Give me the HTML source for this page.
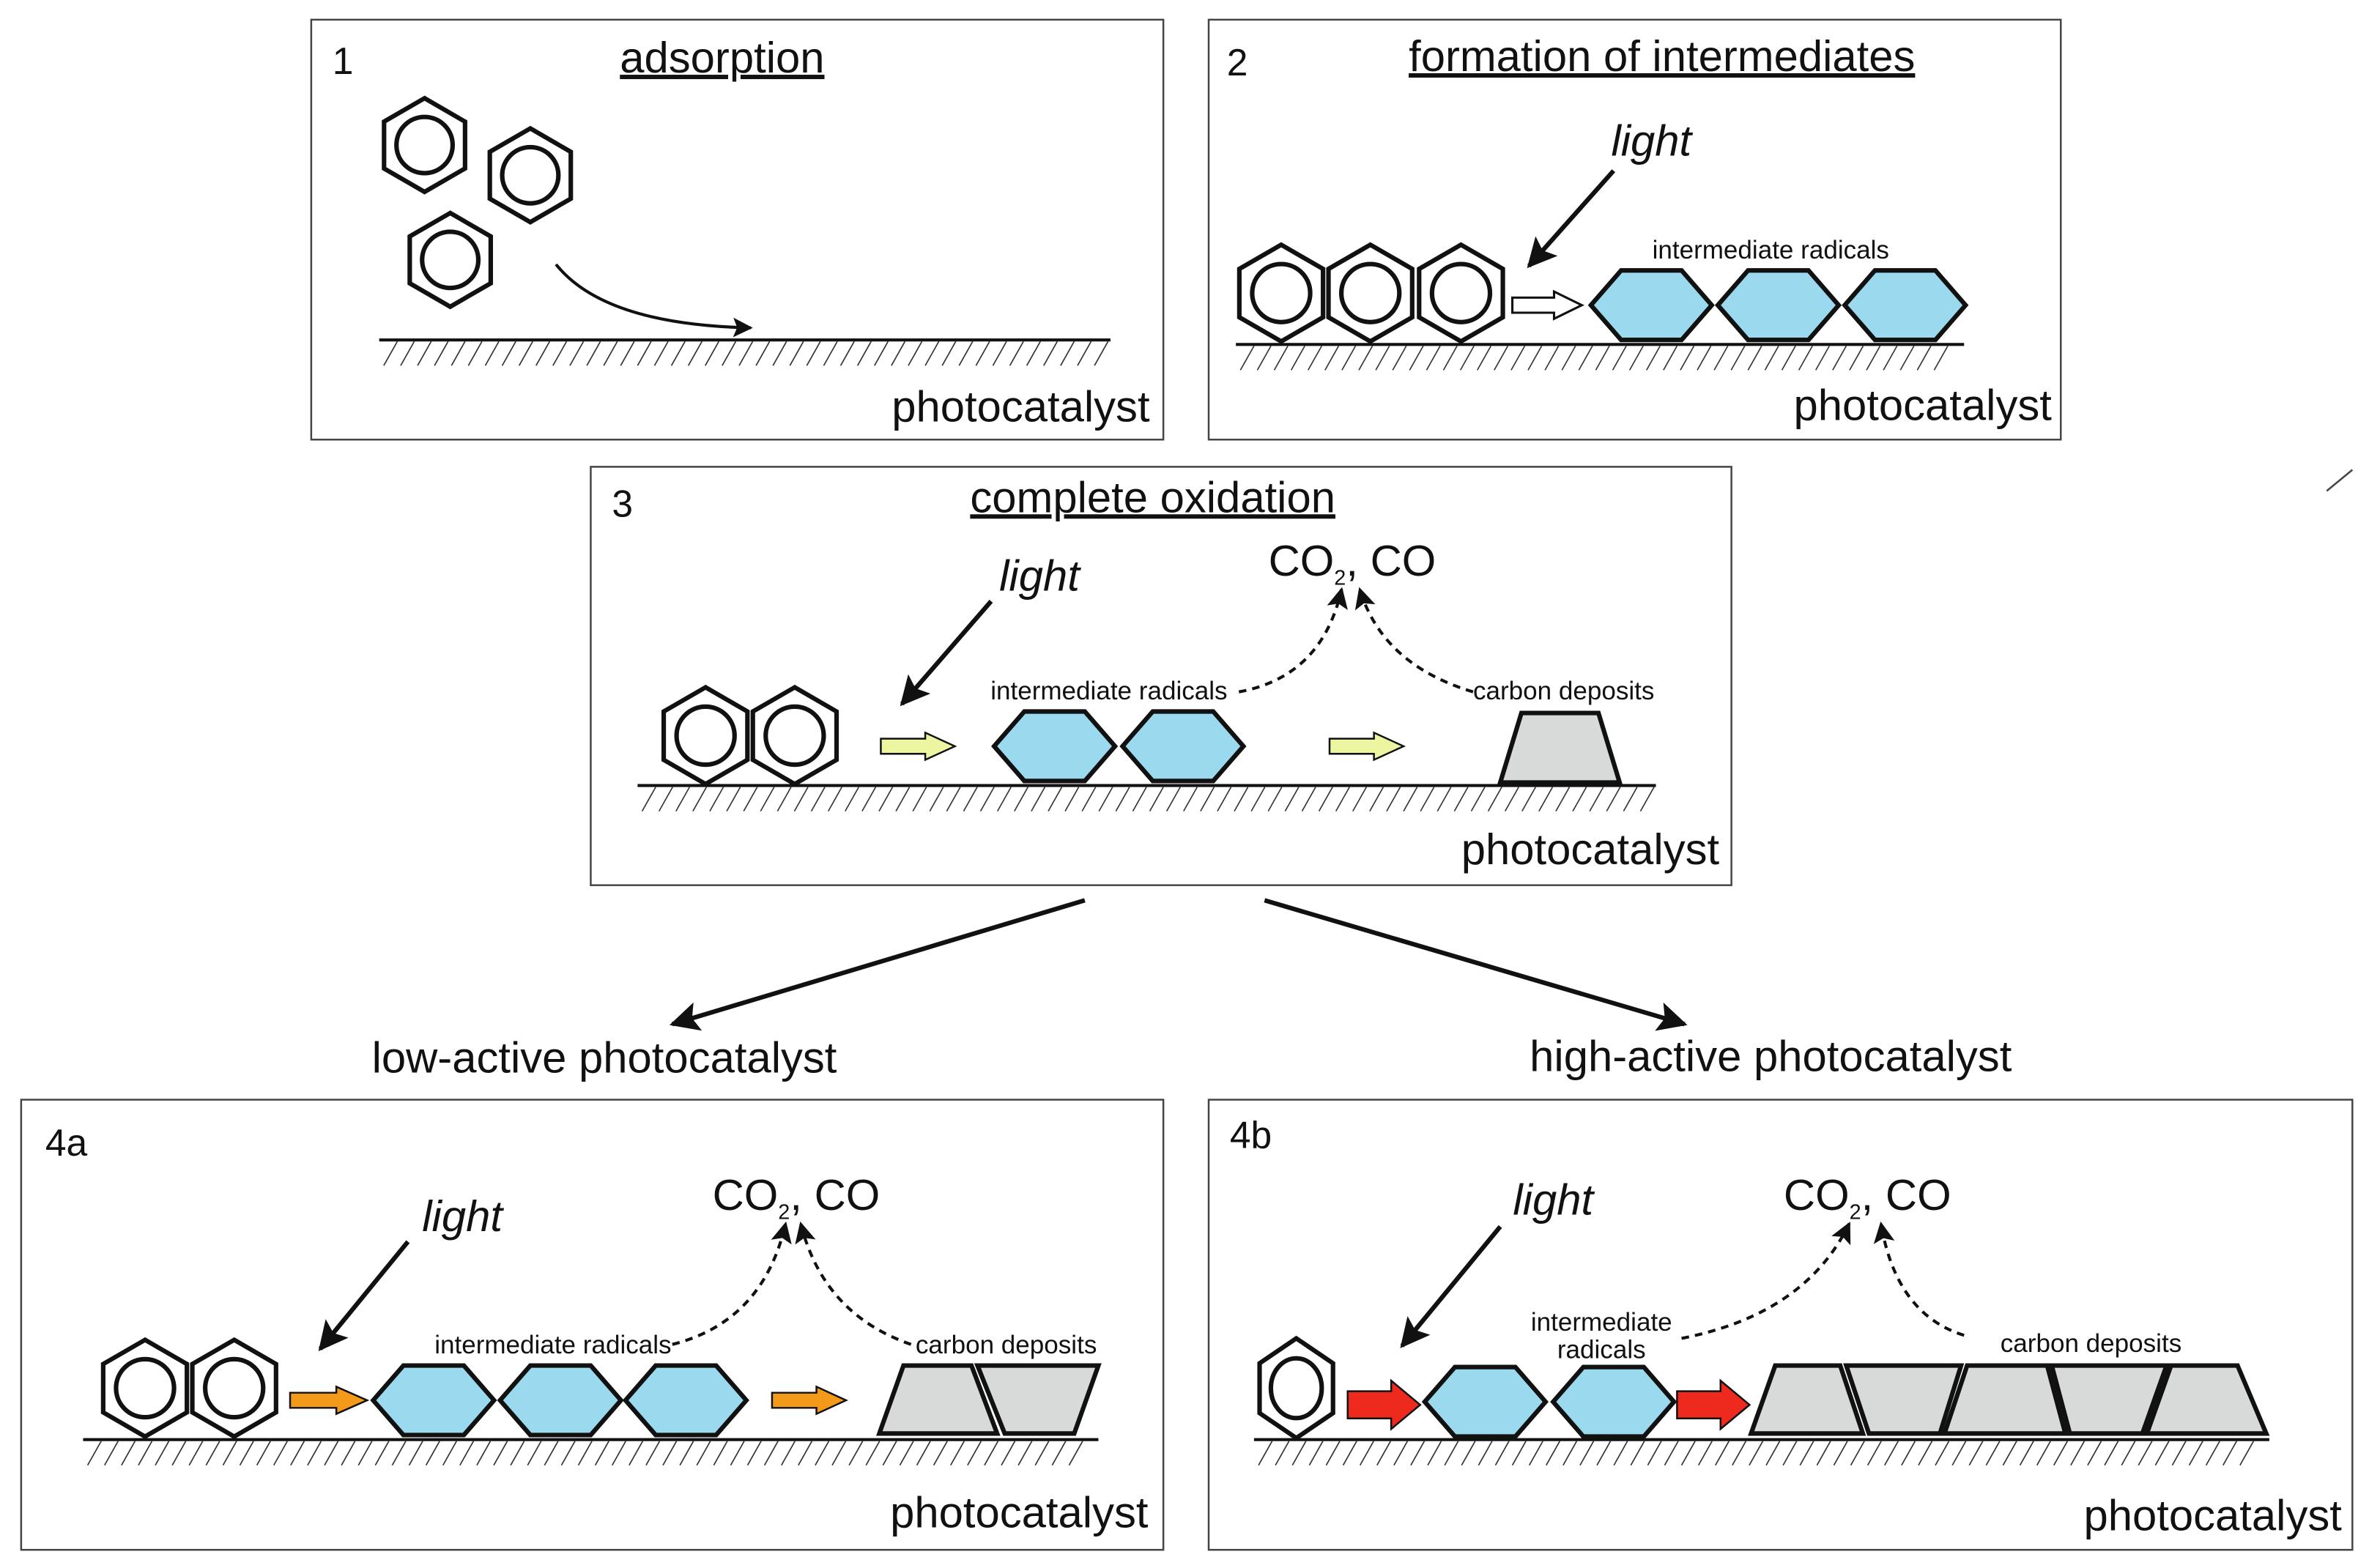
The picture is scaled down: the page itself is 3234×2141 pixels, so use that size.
<!DOCTYPE html>
<html><head><meta charset="utf-8"><style>
html,body{margin:0;padding:0;background:#fff;}
svg{display:block;}
text{font-family:"Liberation Sans",Arial,sans-serif;fill:#111;}
</style></head><body>
<svg id="s" width="3234" height="2141" viewBox="0 0 1568 1038" xmlns="http://www.w3.org/2000/svg">
<defs>
<marker id="ah" viewBox="0 0 10 10" refX="9" refY="5" markerWidth="6.5" markerHeight="6.5" orient="auto" markerUnits="strokeWidth"><path d="M0,0 L10,5 L0,10 L2,5 z" fill="#111"/></marker>
<marker id="ahs" viewBox="0 0 10 10" refX="9" refY="5" markerWidth="7" markerHeight="7" orient="auto" markerUnits="strokeWidth"><path d="M0,0 L10,5 L0,10 L2,5 z" fill="#111"/></marker>
</defs>
<g fill="none" stroke="#444" stroke-width="1.2">
<rect x="206" y="13" width="564" height="278"/>
<rect x="800" y="13" width="564" height="278"/>
<rect x="391" y="309" width="755" height="277"/>
<rect x="14" y="728" width="756" height="298"/>
<rect x="800" y="728" width="757" height="298"/>
</g>
<line x1="1540" y1="325" x2="1557" y2="311" stroke="#444" stroke-width="1.2"/>
<g id="g"></g>
<text x="220" y="49" font-size="25">1</text>
<text x="478" y="48" font-size="29" text-anchor="middle" text-decoration="underline">adsorption</text>
<text x="761" y="279" font-size="29" text-anchor="end">photocatalyst</text>
<text x="812" y="50" font-size="25">2</text>
<text x="1100" y="47" font-size="29" text-anchor="middle" text-decoration="underline">formation of intermediates</text>
<text x="1093" y="103" font-size="29" text-anchor="middle" font-style="italic">light</text>
<text x="1172" y="171" font-size="17" text-anchor="middle">intermediate radicals</text>
<text x="1358" y="278" font-size="29" text-anchor="end">photocatalyst</text>
<text x="405" y="342" font-size="25">3</text>
<text x="763" y="339" font-size="29" text-anchor="middle" text-decoration="underline">complete oxidation</text>
<text x="688" y="391" font-size="29" text-anchor="middle" font-style="italic">light</text>
<text x="895" y="381" font-size="29" text-anchor="middle">CO<tspan font-size="14" dy="6">2</tspan><tspan dy="-6">, CO</tspan></text>
<text x="734" y="463" font-size="17" text-anchor="middle">intermediate radicals</text>
<text x="1035" y="463" font-size="17" text-anchor="middle">carbon deposits</text>
<text x="1138" y="572" font-size="29" text-anchor="end">photocatalyst</text>
<text x="400" y="710" font-size="29" text-anchor="middle">low-active photocatalyst</text>
<text x="1172" y="709" font-size="29" text-anchor="middle">high-active photocatalyst</text>
<text x="30" y="765" font-size="25">4a</text>
<text x="306" y="815" font-size="29" text-anchor="middle" font-style="italic">light</text>
<text x="527" y="801" font-size="29" text-anchor="middle">CO<tspan font-size="14" dy="6">2</tspan><tspan dy="-6">, CO</tspan></text>
<text x="366" y="896" font-size="17" text-anchor="middle">intermediate radicals</text>
<text x="666" y="896" font-size="17" text-anchor="middle">carbon deposits</text>
<text x="760" y="1011" font-size="29" text-anchor="end">photocatalyst</text>
<text x="814" y="760" font-size="25">4b</text>
<text x="1028" y="804" font-size="29" text-anchor="middle" font-style="italic">light</text>
<text x="1236" y="801" font-size="29" text-anchor="middle">CO<tspan font-size="14" dy="6">2</tspan><tspan dy="-6">, CO</tspan></text>
<text x="1060" y="881" font-size="17" text-anchor="middle">intermediate</text>
<text x="1060" y="899" font-size="17" text-anchor="middle">radicals</text>
<text x="1384" y="895" font-size="17" text-anchor="middle">carbon deposits</text>
<text x="1550" y="1013" font-size="29" text-anchor="end">photocatalyst</text>
</svg>
<script>
var g=document.getElementById('g'),h='';
function ground(x1,x2,y){h+='<line x1="'+x1+'" y1="'+y+'" x2="'+x2+'" y2="'+y+'" stroke="#111" stroke-width="2"/>';
for(var x=x1+12;x<=x2;x+=11.2)h+='<line x1="'+x+'" y1="'+(y+1)+'" x2="'+(x-9)+'" y2="'+(y+17)+'" stroke="#333" stroke-width="0.8"/>';}
function benz(cx,cy,r,sx){sx=sx||1;var p=[];for(var i=0;i<6;i++){var a=Math.PI/2+i*Math.PI/3;p.push((cx+r*Math.cos(a)*sx).toFixed(1)+','+(cy-r*Math.sin(a)).toFixed(1));}
h+='<polygon points="'+p.join(' ')+'" fill="#fff" stroke="#111" stroke-width="3"/><ellipse cx="'+cx+'" cy="'+cy+'" rx="'+(r*0.6*sx)+'" ry="'+(r*0.6)+'" fill="none" stroke="#111" stroke-width="3"/>';}
function hex(cx,cy,w,hh){var q=w/4;h+='<polygon points="'+(cx-w/2)+','+cy+' '+(cx-q)+','+(cy-hh/2)+' '+(cx+q)+','+(cy-hh/2)+' '+(cx+w/2)+','+cy+' '+(cx+q)+','+(cy+hh/2)+' '+(cx-q)+','+(cy+hh/2)+'" fill="#9bd9ef" stroke="#111" stroke-width="3"/>';}
function poly(pts){h+='<polygon points="'+pts+'" fill="#d8d9d9" stroke="#111" stroke-width="3"/>';}
function barrow(x1,x2,y,t,hw,fill,sw){var hl=(x2-x1)*0.4;h+='<polygon points="'+x1+','+(y-t)+' '+(x2-hl)+','+(y-t)+' '+(x2-hl)+','+(y-hw)+' '+x2+','+y+' '+(x2-hl)+','+(y+hw)+' '+(x2-hl)+','+(y+t)+' '+x1+','+(y+t)+'" fill="'+fill+'" stroke="#111" stroke-width="'+sw+'"/>';}
function arr(d,w,dash){h+='<path d="'+d+'" fill="none" stroke="#111" stroke-width="'+w+'"'+(dash?' stroke-dasharray="5,4"':'')+' marker-end="url(#'+(dash?'ahs':'ah')+')"/>';}
ground(251,735,225);benz(281,96,31);benz(351,116,31);benz(298,172,31);
arr('M368,175 Q400,215 497,217',2);
ground(818,1300,228);benz(848,194,32);benz(907,194,32);benz(967,194,32);
barrow(1001,1047,202,5,9,'#fff',1.5);hex(1093,202,80,46);hex(1177,202,80,46);hex(1261,202,80,46);
arr('M1068,113 L1012,176',3);
ground(422,1096,520);benz(467,487,32);benz(526,487,32);
barrow(583,632,494,5,9,'#eef5a0',1.2);barrow(880,929,494,5,9,'#eef5a0',1.2);
hex(698,494,80,46);hex(783,494,80,46);
poly('993,518 1007,472 1058,472 1072,518');
arr('M656,398 L597,466',3);
arr('M820,458 Q875,448 888,390',2,1);arr('M975,458 Q915,440 900,390',2,1);
arr('M718,596 L445,678',3);arr('M837,596 L1115,678',3);
ground(55,727,953);benz(96,919,32);benz(155,919,32);
barrow(192,243,927,5,9,'#f39a1a',1.2);barrow(511,560,927,5,9,'#f39a1a',1.2);
hex(287,927,80,46);hex(371,927,80,46);hex(454,927,80,46);
poly('582,949 598,904 643,904 660,949');poly('665,949 647,904 727,904 711,949');
arr('M270,822 L212,893',3);
arr('M445,890 Q505,875 520,810',2,1);arr('M603,890 Q545,870 530,810',2,1);
ground(830,1502,953);benz(858,919,33,0.85);
barrow(892,940,930,9,16,'#ee2a1f',1.2);barrow(1110,1158,930,9,16,'#ee2a1f',1.2);
hex(983,928,80,46);hex(1068,928,80,46);
poly('1159,949 1175,904 1218,904 1233,949');poly('1237,949 1222,904 1298,904 1284,949');
poly('1287,949 1302,904 1355,904 1367,949');poly('1370,949 1358,904 1434,904 1418,949');
poly('1421,949 1437,904 1481,904 1500,949');
arr('M993,812 L928,891',3);
arr('M1113,886 Q1195,870 1224,810',2,1);arr('M1300,884 Q1255,870 1245,810',2,1);
g.innerHTML=h;
</script>
</body></html>
